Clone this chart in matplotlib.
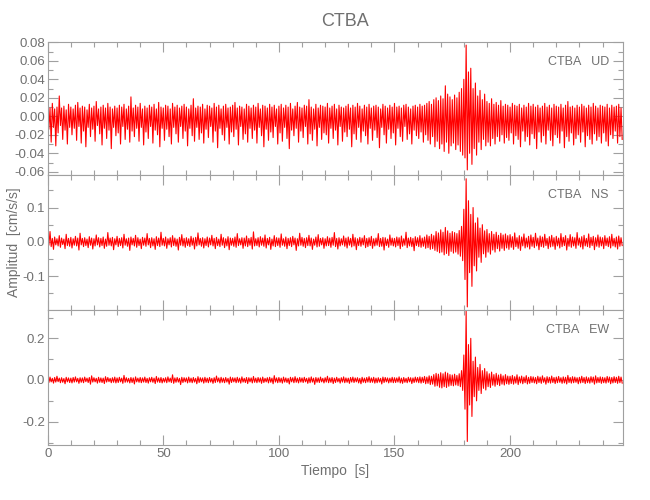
import numpy as np
import matplotlib
matplotlib.use('Agg')
import matplotlib.pyplot as plt
from matplotlib.ticker import MultipleLocator, FormatStrFormatter

ud_hi = [12, 9, 14, 8, 10, 22, 9, 11, 7, 13,
         10, 8, 12, 15, 9, 11, 10, 7, 13, 9,
         11, 16, 8, 10, 12, 9, 14, 10, 8, 11,
         9, 12, 10, 13, 8, 11, 21, 9, 12, 10,
         14, 8, 11, 9, 12, 10, 13, 8, 15, 10,
         9, 12, 11, 8, 14, 10, 12, 9, 11, 13,
         10, 8, 12, 19, 9, 11, 10, 13, 8, 12,
         11, 9, 14, 10, 12, 8, 11, 13, 9, 10,
         12, 15, 9, 11, 10, 8, 13, 11, 9, 12,
         10, 14, 8, 12, 11, 9, 13, 10, 12, 8,
         11, 13, 9, 12, 10, 14, 8, 11, 15, 10,
         9, 12, 11, 18, 10, 8, 13, 9, 12, 11,
         10, 14, 9, 11, 13, 8, 12, 10, 9, 11,
         13, 9, 12, 10, 14, 11, 8, 12, 10, 13,
         9, 11, 12, 10, 8, 13, 11, 9, 12, 10,
         14, 10, 11, 9, 12, 13, 10, 8, 11, 12,
         10, 13, 11, 12, 14, 16, 13, 18, 20, 17,
         22, 19, 33, 24, 21, 18, 23, 20, 26, 30,
         40, 77, 48, 52, 30, 36, 22, 28, 18, 24,
         16, 14, 19, 13, 15, 12, 17, 11, 13, 12,
         10, 14, 12, 11, 13, 9, 12, 10, 14, 11,
         13, 10, 12, 9, 11, 14, 10, 12, 9, 13,
         11, 10, 13, 9, 12, 16, 10, 11, 9, 12,
         10, 13, 11, 9, 12, 10, 14, 11, 9, 12,
         11, 10, 13, 9, 12, 10, 11, 13, 9]
ud_lo = [-14, -28, -12, -32, -18, -10, -25, -15, -30, -12,
         -20, -13, -26, -11, -29, -16, -33, -12, -22, -14,
         -27, -10, -19, -31, -13, -24, -15, -35, -12, -21,
         -18, -30, -11, -25, -14, -28, -16, -22, -13, -27,
         -12, -31, -17, -24, -11, -29, -15, -20, -33, -13,
         -26, -14, -22, -30, -12, -19, -28, -11, -24, -16,
         -32, -13, -21, -27, -12, -25, -18, -29, -14, -23,
         -11, -28, -16, -34, -13, -20, -26, -12, -30, -17,
         -22, -14, -31, -11, -25, -19, -28, -13, -24, -15,
         -29, -12, -21, -33, -14, -26, -17, -23, -11, -30,
         -18, -27, -12, -24, -35, -15, -21, -13, -28, -16,
         -23, -11, -30, -19, -26, -14, -32, -12, -25, -18,
         -20, -29, -13, -24, -15, -31, -11, -27, -17, -22,
         -14, -33, -19, -25, -12, -28, -16, -21, -30, -13,
         -26, -15, -23, -34, -12, -20, -29, -14, -24, -18,
         -31, -13, -22, -27, -11, -25, -19, -30, -15, -21,
         -24, -17, -28, -20, -26, -30, -22, -33, -27, -35,
         -30, -38, -28, -40, -32, -29, -36, -31, -38, -42,
         -45, -58, -40, -52, -35, -42, -28, -36, -25, -32,
         -28, -32, -24, -30, -22, -27, -20, -29, -23, -26,
         -18, -30, -21, -25, -33, -16, -27, -22, -31, -19,
         -24, -35, -17, -28, -21, -30, -15, -26, -32, -20,
         -23, -29, -16, -34, -22, -27, -18, -31, -24, -20,
         -28, -17, -33, -21, -25, -30, -19, -26, -22, -29,
         -18, -27, -32, -20, -24, -16, -29, -22, -25]

ns_hi = [12, 30, 10, 14, 9, 18, 11, 8, 22, 10,
         13, 9, 16, 11, 25, 10, 12, 8, 15, 11,
         9, 20, 12, 10, 14, 8, 27, 11, 13, 9,
         16, 10, 12, 22, 9, 11, 14, 10, 19, 12,
         8, 13, 11, 24, 10, 12, 9, 15, 11, 28,
         10, 14, 9, 12, 18, 11, 8, 13, 21, 10,
         12, 9, 16, 11, 13, 26, 10, 12, 9, 14,
         11, 19, 10, 13, 8, 22, 12, 9, 15, 11,
         10, 14, 24, 9, 12, 11, 17, 10, 13, 29,
         9, 12, 15, 11, 20, 10, 13, 8, 18, 12,
         11, 23, 9, 14, 10, 12, 16, 11, 9, 25,
         13, 10, 12, 19, 11, 8, 14, 21, 10, 12,
         9, 15, 11, 13, 27, 10, 12, 9, 17, 11,
         14, 10, 22, 12, 9, 13, 11, 18, 10, 12,
         16, 9, 11, 24, 10, 13, 12, 8, 20, 11,
         10, 14, 12, 17, 9, 28, 11, 13, 10, 15,
         12, 18, 11, 14, 20, 16, 22, 18, 30, 26,
         35, 28, 42, 32, 25, 30, 27, 24, 33, 45,
         95, 184, 120, 80, 100, 55, 70, 40, 50, 32,
         36, 24, 30, 22, 28, 19, 25, 20, 23, 18,
         21, 15, 26, 12, 18, 14, 23, 11, 16, 20,
         13, 25, 11, 17, 14, 22, 10, 15, 19, 12,
         16, 11, 24, 13, 18, 10, 21, 14, 12, 27,
         11, 15, 19, 10, 23, 13, 16, 12, 20, 14,
         12, 18, 11, 15, 22, 10, 14, 17, 12]
ns_lo = [-10, -14, -22, -9, -12, -16, -8, -20, -11, -13,
         -18, -10, -12, -24, -9, -14, -11, -17, -10, -21,
         -12, -9, -15, -11, -19, -13, -10, -12, -23, -9,
         -14, -11, -18, -10, -13, -25, -9, -12, -16, -11,
         -20, -10, -13, -9, -17, -12, -22, -11, -14, -10,
         -12, -19, -9, -15, -11, -13, -24, -10, -12, -16,
         -11, -14, -10, -21, -12, -9, -13, -18, -11, -15,
         -9, -12, -20, -11, -14, -10, -17, -12, -23, -10,
         -13, -16, -11, -9, -19, -12, -14, -10, -21, -12,
         -11, -15, -10, -13, -18, -9, -22, -12, -14, -11,
         -16, -10, -13, -20, -11, -14, -9, -25, -12, -10,
         -13, -17, -11, -12, -22, -10, -15, -13, -9, -19,
         -12, -11, -16, -10, -14, -21, -12, -9, -13, -18,
         -10, -15, -12, -23, -11, -13, -9, -17, -14, -11,
         -19, -12, -10, -14, -13, -24, -11, -16, -10, -12,
         -15, -11, -20, -13, -10, -17, -12, -14, -26, -11,
         -14, -16, -13, -19, -17, -22, -20, -25, -28, -32,
         -30, -38, -34, -40, -28, -33, -30, -36, -42, -55,
         -110, -190, -90, -130, -70, -85, -45, -60, -35, -45,
         -30, -36, -24, -30, -20, -27, -19, -25, -18, -22,
         -16, -22, -14, -19, -25, -12, -18, -15, -21, -13,
         -17, -12, -23, -14, -16, -11, -20, -15, -13, -22,
         -12, -18, -14, -11, -24, -13, -16, -12, -19, -10,
         -15, -21, -12, -14, -17, -11, -23, -13, -16, -12,
         -20, -11, -14, -18, -12, -15, -21, -13, -11]

ew_hi = [10, 14, 8, 12, 18, 9, 11, 7, 13, 10,
         9, 12, 15, 8, 11, 10, 14, 9, 12, 20,
         11, 8, 13, 10, 9, 16, 12, 8, 11, 14,
         10, 13, 9, 22, 11, 8, 12, 10, 15, 9,
         12, 10, 14, 8, 11, 13, 9, 17, 10, 12,
         8, 11, 15, 9, 25, 10, 12, 8, 13, 11,
         10, 14, 9, 12, 8, 16, 11, 10, 13, 9,
         12, 8, 11, 19, 10, 13, 9, 12, 8, 14,
         11, 10, 13, 9, 15, 8, 12, 11, 10, 17,
         9, 12, 10, 14, 8, 11, 13, 9, 21, 10,
         12, 9, 14, 10, 8, 13, 11, 16, 9, 12,
         10, 13, 8, 11, 15, 9, 12, 10, 14, 8,
         11, 18, 10, 12, 9, 13, 8, 11, 15, 10,
         9, 12, 14, 10, 11, 8, 13, 9, 12, 16,
         10, 13, 9, 11, 8, 14, 12, 10, 9, 13,
         11, 10, 15, 9, 12, 8, 13, 11, 10, 14,
         12, 15, 13, 17, 14, 20, 18, 26, 32, 28,
         35, 30, 38, 33, 26, 24, 28, 22, 30, 45,
         120, 330, 170, 200, 90, 110, 60, 75, 45, 55,
         40, 30, 38, 26, 32, 24, 28, 20, 26, 19,
         18, 22, 16, 25, 15, 19, 14, 21, 13, 17,
         15, 12, 18, 14, 20, 11, 16, 13, 19, 12,
         14, 17, 11, 15, 13, 22, 12, 16, 14, 11,
         13, 18, 12, 15, 11, 16, 14, 20, 12, 15,
         13, 11, 17, 14, 12, 16, 13, 18, 14]
ew_lo = [-12, -9, -15, -10, -8, -13, -11, -18, -9, -12,
         -14, -10, -9, -16, -11, -13, -8, -12, -20, -10,
         -9, -15, -11, -12, -17, -10, -8, -13, -11, -14,
         -12, -9, -16, -11, -10, -14, -12, -19, -9, -11,
         -13, -10, -12, -15, -9, -11, -17, -10, -12, -14,
         -10, -13, -9, -12, -16, -11, -10, -22, -12, -9,
         -14, -11, -13, -10, -18, -12, -9, -15, -11, -13,
         -10, -16, -12, -9, -14, -11, -13, -10, -20, -12,
         -9, -13, -11, -15, -10, -12, -17, -9, -14, -11,
         -13, -10, -16, -12, -9, -14, -11, -18, -10, -13,
         -11, -15, -10, -12, -19, -9, -13, -11, -14, -10,
         -12, -9, -16, -13, -10, -21, -11, -12, -9, -14,
         -10, -13, -11, -17, -12, -9, -15, -10, -13, -11,
         -16, -10, -12, -9, -14, -18, -11, -13, -10, -12,
         -11, -15, -13, -10, -19, -12, -9, -14, -11, -13,
         -12, -10, -14, -16, -11, -13, -9, -17, -12, -10,
         -13, -15, -12, -18, -16, -22, -20, -30, -28, -35,
         -38, -32, -36, -30, -26, -28, -24, -27, -32, -50,
         -140, -295, -120, -175, -80, -100, -50, -65, -40, -48,
         -32, -36, -25, -30, -22, -27, -20, -24, -18, -21,
         -17, -20, -15, -22, -14, -18, -13, -19, -16, -12,
         -14, -18, -12, -16, -11, -20, -13, -15, -12, -17,
         -13, -11, -16, -14, -19, -12, -15, -13, -11, -18,
         -14, -12, -17, -13, -15, -11, -20, -14, -12, -16,
         -13, -15, -11, -18, -14, -12, -16, -13, -15]

componentes = ['UD', 'NS', 'EW']
estacion = 'CTBA'
escala = 0.001

plt.rcParams['font.family'] = ['Liberation Sans Narrow', 'Liberation Sans', 'DejaVu Sans']
plt.rcParams['axes.unicode_minus'] = False
gris = '#707070'
gris_eje = '#a0a0a0'

fig = plt.figure(figsize=(6.5, 5), dpi=100)
izq, der = 0.0734, 0.959
bordes = [0.9166, 0.65, 0.38, 0.11]
limites = [(-0.0635, 0.0807), (-0.199, 0.195), (-0.312, 0.336)]
mayores = [0.02, 0.1, 0.2]
menores = [0.01, 0.05, 0.1]
formatos = ['%.2f', '%.1f', '%.1f']
series = [(ud_hi, ud_lo), (ns_hi, ns_lo), (ew_hi, ew_lo)]

axes = []
for k in range(3):
    ax = fig.add_axes([izq, bordes[k + 1], der - izq, bordes[k] - bordes[k + 1]])
    hi = np.array(series[k][0]) * escala
    lo = np.array(series[k][1]) * escala
    t = np.arange(len(hi))
    # traza min/max: cada segundo va del pico superior al inferior
    tt = np.column_stack([t, t + 0.5]).ravel()
    yy = np.column_stack([hi, lo]).ravel()
    ax.plot(tt, yy, color='red', lw=0.8)
    ax.set_xlim(0, 249)
    ax.set_ylim(*limites[k])
    ax.xaxis.set_major_locator(MultipleLocator(50))
    ax.xaxis.set_minor_locator(MultipleLocator(10))
    ax.yaxis.set_major_locator(MultipleLocator(mayores[k]))
    ax.yaxis.set_minor_locator(MultipleLocator(menores[k]))
    ax.yaxis.set_major_formatter(FormatStrFormatter(formatos[k]))
    ax.tick_params(which='both', direction='in', top=True, right=True,
                   color=gris_eje, labelcolor=gris, labelsize=9.5, width=0.8, pad=2)
    ax.tick_params(which='major', length=7)
    ax.tick_params(which='minor', length=3.6)
    for s in ax.spines.values():
        s.set_color(gris_eje)
        s.set_linewidth(0.8)
    if k < 2:
        ax.tick_params(labelbottom=False)
    ax.text(0.975, 0.85, estacion + '   ' + componentes[k], transform=ax.transAxes,
            ha='right', va='center', fontsize=9, color=gris)
    axes.append(ax)

axes[2].set_xlabel('Tiempo  [s]', color=gris, fontsize=10, labelpad=3)
axes[1].set_ylabel('Amplitud  [cm/s/s]', color=gris, fontsize=10, labelpad=1)
fig.text(0.53, 0.958, estacion, ha='center', va='center', fontsize=13, color=gris)

fig.savefig('out.png', dpi=100)
